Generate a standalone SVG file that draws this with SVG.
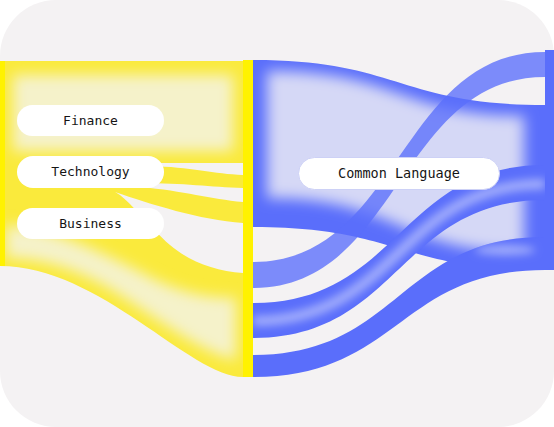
<svg xmlns="http://www.w3.org/2000/svg" width="554" height="427" viewBox="0 0 554 427">
<defs>
<style>
.pill{fill:#ffffff}
.lbl{font-family:"DejaVu Sans Mono","Liberation Mono",monospace;font-size:13px;fill:#151515;text-anchor:middle}
.yflow{fill:#faea3c}
.ybar{fill:#fff200}
.ylight{fill:#f5f2ca}
.gap{fill:#f4f2f3}
.blue{fill:#5a6efb}
.lav{fill:#d5d8f6}
</style>
<filter id="blur7" filterUnits="userSpaceOnUse" x="0" y="0" width="554" height="427"><feGaussianBlur stdDeviation="7"/></filter>
<filter id="blur4" filterUnits="userSpaceOnUse" x="0" y="0" width="554" height="427"><feGaussianBlur stdDeviation="4"/></filter>
<clipPath id="clipY"><path d="M0,61 H243 V377 C190,377 100,266 0,266 Z"/></clipPath>
<clipPath id="clipA"><path d="M253,60 C399,60 399,105 545,105 L545,270 C399,270 399,227 253,227 Z"/></clipPath>
<clipPath id="clipC"><path d="M253,303 C399,303 399,165 545,165 L545,200 C399,200 399,338 253,338 Z"/></clipPath>
<clipPath id="clipD"><path d="M253,355 C399,355 399,237 545,237 L545,270 C399,270 399,377 253,377 Z"/></clipPath>
</defs>
<rect x="0" y="0" width="554" height="427" fill="#ffffff"/>
<rect id="background" x="0" y="0" width="554" height="427" rx="56" ry="56" fill="#f4f2f3"/>
<g id="connectors">
<g id="yellow-flows">
<path class="yflow" d="M0,61 H243 V377 C190,377 100,266 0,266 Z"/>
<g clip-path="url(#clipY)">
<rect class="ylight" x="13" y="75" width="220" height="76" filter="url(#blur7)"/>
<path class="ylight" d="M6,225 C60,228 120,262 160,282 C190,295 212,298 236,298 L236,360 C200,352 160,320 112,290 C75,268 40,258 6,258 Z" filter="url(#blur7)"/>
</g>
<path class="gap" d="M150,163 L243,163 L243,175 C215,174 190,167 150,166 Z"/>
<path class="gap" d="M140,183 C185,183 210,187 243,188 L243,202 C210,199 185,191 140,187 Z"/>
<path class="gap" d="M115,192 C150,204 200,220 243,223 L243,273 C215,271 190,262 170,245 C150,228 128,198 115,192 Z"/>
</g>
<g id="blue-flows">
<path class="blue" d="M253,60 C399,60 399,105 545,105 L545,270 C399,270 399,227 253,227 Z"/>
<g clip-path="url(#clipA)">
<path class="lav" d="M267,71 C399,71 399,116 524,116 L524,252 C399,252 399,198 267,198 Z" filter="url(#blur7)"/>
</g>
<path class="blue" opacity="0.78" d="M253,262 C399,262 399,52 545,52 L545,77 C399,77 399,288 253,288 Z"/>
<path class="blue" d="M253,303 C399,303 399,165 545,165 L545,200 C399,200 399,338 253,338 Z"/>
<g clip-path="url(#clipC)">
<path d="M253,321 C399,321 399,184 545,184" fill="none" stroke="#a3aefc" stroke-width="10" filter="url(#blur4)"/>
</g>
<path class="blue" d="M253,355 C399,355 399,237 545,237 L545,270 C399,270 399,377 253,377 Z"/>
<g clip-path="url(#clipD)">
<ellipse cx="505" cy="250" rx="30" ry="5" fill="#a3aefc" filter="url(#blur4)"/>
</g>
</g>
</g>
<g id="node-source">
<rect class="ybar" x="0" y="61" width="5" height="205"/>
</g>
<g id="node-yellow-target">
<rect class="ybar" x="243" y="60" width="10" height="317"/>
</g>
<g id="node-blue-target">
<rect class="blue" x="545" y="50" width="9" height="220"/>
</g>
<g id="node-finance">
<rect class="pill" x="17" y="105" width="147" height="31" rx="15.5"/>
<text class="lbl" x="90.5" y="124.5">Finance</text>
</g>
<g id="node-technology">
<rect class="pill" x="17" y="156" width="147" height="32" rx="16"/>
<text class="lbl" x="90.5" y="176">Technology</text>
</g>
<g id="node-business">
<rect class="pill" x="17" y="208" width="147" height="31" rx="15.5"/>
<text class="lbl" x="90.5" y="227.5">Business</text>
</g>
<g id="node-common-language">
<rect class="pill" x="298.5" y="157.5" width="201" height="32" rx="16" stroke="#cdd1f6" stroke-width="1"/>
<text class="lbl" x="399" y="178" style="font-size:13.5px">Common Language</text>
</g>
</svg>
